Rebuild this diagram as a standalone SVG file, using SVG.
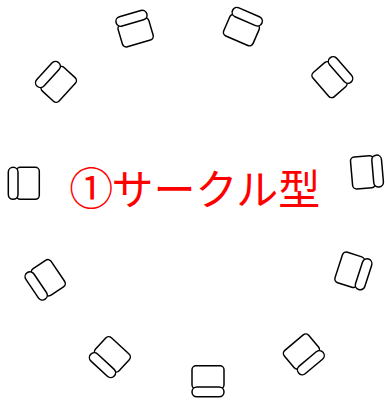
<svg xmlns="http://www.w3.org/2000/svg" width="385" height="403" viewBox="0 0 385 403">
<defs>
<style>
.seat{fill:#fff;stroke:#000;stroke-width:1.5}
.title{font-family:"Noto Sans CJK JP","Noto Sans",sans-serif;font-size:42px;fill:#ff0000}
.num{font-size:44px}
</style>
<g id="chair">
<rect class="seat" x="-16" y="-15.5" width="32" height="23" rx="4"/>
<rect class="seat" x="-16" y="5.8" width="32" height="9.7" rx="4.85"/>
</g>
</defs>
<rect width="385" height="403" fill="#fff"/>
<g id="chairs">
<g id="chair-a"><use href="#chair" transform="translate(134.5,28.5) rotate(163.6)"/></g>
<g id="chair-b"><use href="#chair" transform="translate(243,26.5) rotate(203.4)"/></g>
<g id="chair-c"><use href="#chair" transform="translate(332.5,77) rotate(229)"/></g>
<g id="chair-d"><use href="#chair" transform="translate(367,172) rotate(265)"/></g>
<g id="chair-e"><use href="#chair" transform="translate(353.5,271) rotate(288)"/></g>
<g id="chair-f"><use href="#chair" transform="translate(304,354.5) rotate(320)"/></g>
<g id="chair-g"><use href="#chair" transform="translate(208,381.3)"/></g>
<g id="chair-h"><use href="#chair" transform="translate(109.7,357.3) rotate(42.7)"/></g>
<g id="chair-i"><use href="#chair" transform="translate(45,280) rotate(56)"/></g>
<g id="chair-j"><use href="#chair" transform="translate(23.8,183.3) rotate(90)"/></g>
<g id="chair-k"><use href="#chair" transform="translate(55.8,81.7) rotate(132.5)"/></g>
</g>
<g id="connectors"/>
<g id="title">
<text class="title" y="205"><tspan class="num" x="91.2" y="204.5" text-anchor="middle">①</tspan><tspan x="111.5" y="205">サークル型</tspan></text>
</g>
</svg>
